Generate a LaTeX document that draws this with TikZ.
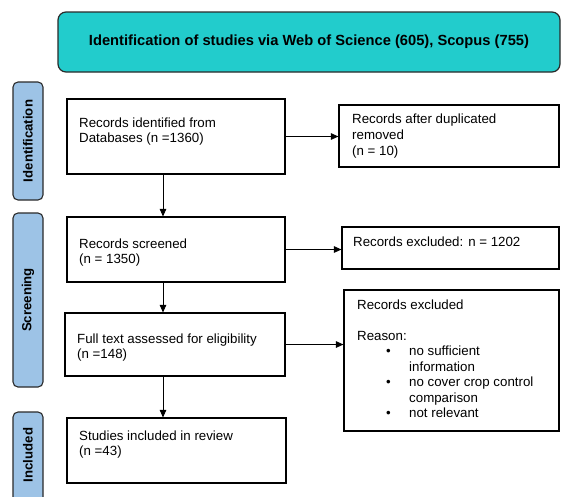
\documentclass[tikz,border=0pt]{standalone}
\usepackage{fontspec}
\setmainfont{Liberation Sans}
\usetikzlibrary{arrows.meta}
\definecolor{tealfill}{HTML}{22CCCC}
\definecolor{sidefill}{HTML}{9DC3E6}
\definecolor{edgecol}{HTML}{2A2A2A}
\begin{document}
\begin{tikzpicture}[x=1pt,y=-1pt,
  flowbox/.style={draw=black,line width=1.1pt,inner sep=0pt},
  sidebox/.style={draw=edgecol,line width=1.1pt,fill=sidefill,rounded corners=5pt,inner sep=0pt,minimum width=30pt},
  sidetext/.style={rotate=90,font=\fontsize{13.2}{15}\selectfont\bfseries},
  txt/.style={anchor=north west,inner sep=0pt,align=left,font=\fontsize{13.3}{15.5}\selectfont},
  arr/.style={line width=0.9pt,-{Triangle[length=7.5pt,width=6.5pt]}}]
\useasboundingbox (0,0) rectangle (561,496);
\begin{scope}
\clip (0,0) rectangle (561,496);
% title
\node[draw=edgecol,line width=1.2pt,fill=tealfill,rounded corners=8pt,minimum width=502pt,minimum height=60pt,inner sep=0pt,
  font=\fontsize{14.7}{16}\selectfont\bfseries] (top) at (309,42) {Identification of studies via Web of Science (605), Scopus (755)};
% side labels
\node[sidebox,minimum height=118pt] (idlab) at (28,141) {};
\node[sidetext] (idtxt) at (idlab.center) {Identification};
\node[sidebox,minimum height=174pt] (scrlab) at (28,300) {};
\node[sidetext] (scrtxt) at (scrlab.center) {Screening};
\node[sidebox,minimum height=92pt] (inclab) at (28,458) {};
\node[sidetext] (inctxt) at (28,455) {Included};
\end{scope}
% main boxes
\node[flowbox,minimum width=218pt,minimum height=75pt] (b1) at (176,136.5) {};
\node[txt] (t1) at (79,117.5) {Records identified from\\Databases (n =1360)};
\node[flowbox,minimum width=218pt,minimum height=65pt] (b2) at (176,249.5) {};
\node[txt] (t2) at (79,238.5) {Records screened\\(n = 1350)};
\node[flowbox,minimum width=220pt,minimum height=63pt] (b3) at (175,344.5) {};
\node[txt] (t3) at (77,333.5) {Full text assessed for eligibility\\(n =148)};
\node[flowbox,minimum width=219pt,minimum height=65pt] (b4) at (176.5,450.5) {};
\node[txt] (t4) at (79,430.5) {Studies included in review\\(n =43)};
% right boxes
\node[flowbox,minimum width=220pt,minimum height=62pt] (r1) at (449,136) {};
\node[txt,font=\fontsize{13.3}{16}\selectfont] (u1) at (352,113.5) {Records after duplicated\\removed\\(n = 10)};
\node[flowbox,minimum width=217pt,minimum height=42pt] (r2) at (450.5,248) {};
\node[txt] (u2) at (353,236.5) {Records excluded: n = 1202};
\node[flowbox,minimum width=215pt,minimum height=141pt] (r3) at (451.5,360.5) {};
\node[txt] (u3) at (357,299.5) {Records excluded\\[15.5pt]Reason:\\
\hspace*{29pt}\makebox[23pt][l]{\textbullet}no sufficient\\
\hspace*{52pt}information\\
\hspace*{29pt}\makebox[23pt][l]{\textbullet}no cover crop control\\
\hspace*{52pt}comparison\\
\hspace*{29pt}\makebox[23pt][l]{\textbullet}not relevant};
% connectors
\coordinate (ax) at (163,0);
\draw[arr] (ax |- b1.south) -- (ax |- b2.north);
\draw[arr] (ax |- b2.south) -- (ax |- b3.north);
\draw[arr] (ax |- b3.south) -- (ax |- b4.north);
\draw[arr] (b1.east) -- (b1.east -| r1.west);
\draw[arr] (b2.east) -- (b2.east -| r2.west);
\draw[arr] (b3.east) -- (b3.east -| r3.west);
\end{tikzpicture}
\end{document}
